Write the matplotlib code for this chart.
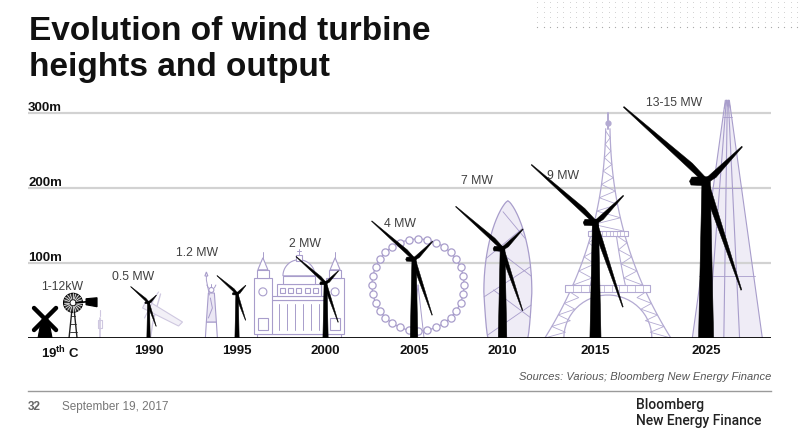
import numpy as np
import matplotlib.pyplot as plt
from matplotlib.patches import Polygon

plt.rcParams['font.family'] = ['Liberation Sans', 'DejaVu Sans']
plt.rcParams['mathtext.fontset'] = 'custom'
plt.rcParams['mathtext.rm'] = 'Liberation Sans'
plt.rcParams['mathtext.bf'] = 'Liberation Sans:bold'

# --- values (heights in metres) ---
eras = [r'$\mathbf{19^{th}}$ C', '1990', '1995', '2000', '2005', '2010', '2015', '2025']
outputs = ['1-12kW', '0.5 MW', '1.2 MW', '2 MW', '4 MW', '7 MW', '9 MW', '13-15 MW']
hub_m = [47, 59, 73, 105, 119, 154, 209]        # 1990 .. 2025
blade_m = [32, 36, 53, 76, 84, 115, 148]        # drawn blade length
windmill_m = 40
windpump_m = 47
landmarks = ['Statue of Liberty', "St Paul's", 'London Eye', 'Gherkin', 'Eiffel Tower', 'The Shard']
landmark_m = [88, 115, 132, 183, 300, 317]
gridlines_m = [100, 200, 300]

# --- layout ---
xpos = [0, 1, 2, 3, 4, 5, 6.05, 7.3]
label_m = [68, 81, 113, 125, 152, 209, 216, 313]
label_dx = [2, -15, -40, -21, -14, -26, -32, -32]     # px from tower
landmark_x = [1.71, 2.70, 4.045, 5.06, 6.19, 7.54]
landmark_hw = [7, 46, 46, 24, 63, 35]                   # px half width

PURPLE = '#a89dcb'
LAV = '#efecf6'

W, H = 800, 436
fig = plt.figure(figsize=(8, 4.36), dpi=100)
ax = fig.add_axes([28 / W, (H - 338) / H, 743 / W, 240 / H])
x0lim = -0.362
x1lim = x0lim + 743 / 88.5
ax.set_xlim(x0lim, x1lim)
ax.set_ylim(0, 320)
ax.patch.set_alpha(0)
SX = 743 / (x1lim - x0lim)   # px per x unit
SY = 240 / 320               # px per metre


def pts(x0, p, k=1.0):
    p = np.asarray(p, float)
    return np.column_stack([x0 + p[:, 0] * k / SX, p[:, 1] * k / SY])


def poly(x0, p, k=1.0, fc='white', ec=PURPLE, lw=0.8, z=3, **kw):
    ax.add_patch(Polygon(pts(x0, p, k), closed=True, fc=fc, ec=ec, lw=lw, zorder=z, **kw))


def line(x0, p, k=1.0, c=PURPLE, lw=0.7, z=3):
    q = pts(x0, p, k)
    ax.plot(q[:, 0], q[:, 1], color=c, lw=lw, zorder=z, solid_capstyle='round')


def rect(x0, a, b, c, d, k=1.0, **kw):
    poly(x0, [(a, b), (c, b), (c, d), (a, d)], k, **kw)


# gridlines and baseline
ax.hlines(gridlines_m, x0lim, x1lim, color='#d2d2d2', lw=1.6, zorder=2.5)
for v in gridlines_m:
    ax.text(x0lim, v + 3, f'{v}m', fontsize=9.5, fontweight='bold', ha='left',
            va='baseline', color='#111111')
ax.axhline(0, color='black', lw=2, zorder=6)
for s in ax.spines.values():
    s.set_visible(False)
ax.set_yticks([])
ax.set_xticks(xpos)
ax.set_xticklabels(eras, fontsize=9.5, fontweight='bold', color='#111111')
ax.tick_params(axis='x', length=0, pad=5)

# ---------- landmarks ----------
# faint sketch next to the 1990 turbine
line(1.0, [(2, 0), (4, 14), (8, 30), (12, 44)], c='#cfc8e0', lw=1.0, z=2)
poly(1.0, [(-6, 30), (30, 12), (34, 16), (-2, 38)], fc='#f2f0f7', ec='#cfc8e0', lw=0.8, z=2)
line(1.0, [(-4, 20), (6, 40), (10, 46)], c='#cfc8e0', lw=0.8, z=2)

# Statue of Liberty
x = landmark_x[0]
k = landmark_m[0] * SY / 66
poly(x, [(-6, 0), (6, 0), (5, 16), (-5, 16)], k)
poly(x, [(-5, 16), (5, 16), (3, 45), (-3, 45)], k, fc='#ebe7f4')
line(x, [(-2, 43), (-5, 58), (-5, 62)], k)
poly(x, [(-6.5, 62), (-3.5, 62), (-5, 66)], k)
th = np.linspace(0, 2 * np.pi, 20)
poly(x, np.column_stack([2.5 * np.cos(th), 48 + 2.5 * np.sin(th)]), k)
line(x, [(-3, 50), (-4.5, 53)], k)
line(x, [(3, 50), (4.5, 53)], k)
line(x, [(0, 51), (0, 54)], k)
line(x, [(-3, 20), (1, 30), (-1, 40)], k)

# St Paul's
x = landmark_x[1]
k = landmark_m[1] * SY / 86
rect(x, -42, 0, 42, 4, k)
rect(x, -28, 4, 28, 38, k)
for c in [-20, -12, -4, 4, 12, 20]:
    line(x, [(c, 8), (c, 34)], k)
rect(x, -30, 38, 30, 42, k)
rect(x, -22, 42, 22, 54, k)
for c in [-16, -8, 0, 8, 16]:
    rect(x, c - 2.5, 45, c + 2.5, 50, k)
rect(x, -16, 54, 16, 62, k)
t = np.linspace(0, np.pi, 30)
poly(x, np.column_stack([16 * np.cos(t), 62 + 16 * np.sin(t)]), k)
rect(x, -3, 77, 3, 83, k)
line(x, [(0, 83), (0, 89)], k)
line(x, [(-2, 87), (2, 87)], k)
for side in [-1, 1]:
    c = 36 * side
    rect(x, c - 9, 4, c + 9, 60, k)
    rect(x, c - 5, 8, c + 5, 20, k)
    poly(x, np.column_stack([c + 4 * np.cos(th), 46 + 4 * np.sin(th)]), k)
    rect(x, c - 6, 60, c + 6, 68, k)
    poly(x, [(c - 5, 68), (c + 5, 68), (c, 80)], k)
    line(x, [(c, 80), (c, 86)], k)

# London Eye
x = landmark_x[2]
r_px = landmark_hw[2]
cy = landmark_m[2] * SY - r_px
line(x, [(-6, 0), (0, cy)], lw=0.7)
line(x, [(6, 0), (0, cy)], lw=0.7)
ang = np.linspace(0, 2 * np.pi, 200)
line(x, np.column_stack([r_px * np.cos(ang), cy + r_px * np.sin(ang)]), lw=0.9)
pa = np.linspace(0, 2 * np.pi, 33)[:-1]
pod = pts(x, np.column_stack([r_px * np.cos(pa), cy + r_px * np.sin(pa)]))
ax.plot(pod[:, 0], pod[:, 1], 'o', ms=5.2, mfc='white', mec=PURPLE, mew=0.9, zorder=3)

# Gherkin
x = landmark_x[3]
hp = landmark_m[3] * SY
hw = landmark_hw[3]


def gw(sv):
    sv = np.asarray(sv, float)
    low = hw * (0.82 + 0.18 * np.clip(sv / 0.33, 0, 1) ** 0.6)
    up = hw * (1 - np.clip((sv - 0.33) / 0.67, 0, 1) ** 2.1) ** 0.75
    return np.where(sv < 0.33, low, up)


yy = np.linspace(0, hp, 90)
ww = gw(yy / hp)
outline = np.vstack([np.column_stack([-ww, yy]), np.column_stack([ww[::-1], yy[::-1]])])
poly(x, outline, fc=LAV, ec='none', lw=0, z=2)
line(x, outline, lw=0.9)
for s1 in [0.02, 0.3, 0.58]:
    line(x, [(-gw(s1), s1 * hp), (gw(s1 + 0.22), (s1 + 0.22) * hp)], lw=0.6)
for s1 in [0.15, 0.45, 0.72]:
    line(x, [(gw(s1), s1 * hp), (-gw(s1 + 0.2) * 0.6, (s1 + 0.2) * hp)], lw=0.6)

# Eiffel Tower
x = landmark_x[4]
hp = landmark_m[4] * SY
hw = landmark_hw[4]


def ew(sv):
    return (hw - 2) * (1 - np.clip(sv, 0, 1)) ** 2.3 + 2


ECOL = '#b3aad2'
sv = np.linspace(0, 0.93, 60)
for side in [-1, 1]:
    line(x, np.column_stack([side * ew(sv), sv * hp]), c=ECOL, lw=0.9)
    s2 = np.linspace(0.235, 0.46, 20)
    line(x, np.column_stack([side * ew(s2) * 0.5, s2 * hp]), c=ECOL, lw=0.8)
    zz = []
    for i, s_ in enumerate(np.linspace(0, 0.205, 9)):
        wo = ew(s_)
        wi = wo - 18 * (1 - s_ * 2)
        zz.append((side * (wo if i % 2 == 0 else wi), s_ * hp))
    line(x, zz, c=ECOL, lw=0.6)
    zz = []
    for i, s_ in enumerate(np.linspace(0.235, 0.455, 8)):
        wo = ew(s_)
        zz.append((side * (wo if i % 2 == 0 else wo * 0.5), s_ * hp))
    line(x, zz, c=ECOL, lw=0.6)
ta = np.linspace(0, np.pi, 30)
line(x, np.column_stack([44 * np.cos(ta), 43 * np.sin(ta)]), c=ECOL, lw=0.9)
zz = []
for i, s_ in enumerate(np.linspace(0.475, 0.92, 16)):
    zz.append(((1 if i % 2 == 0 else -1) * ew(s_), s_ * hp))
line(x, zz, c=ECOL, lw=0.6)
for a, b, f in [(0.205, 0.235, 1.12), (0.455, 0.475, 1.15)]:
    wp = ew(a) * f
    rect(x, -wp, a * hp, wp, b * hp, fc='white', ec=ECOL, lw=0.8, z=3)
    for c in np.linspace(-wp, wp, 12):
        line(x, [(c, a * hp), (c, b * hp)], c=ECOL, lw=0.5)
line(x, [(0, 0.93 * hp), (0, hp)], c=ECOL, lw=1.4)
ax.plot(x, 0.955 * landmark_m[4], 'o', ms=3.5, color=ECOL, zorder=3)

# The Shard
x = landmark_x[5]
hp = landmark_m[5] * SY
hw = landmark_hw[5]
poly(x, [(-hw, 0), (hw, 0), (2, hp), (-2, hp)], fc=LAV, ec='none', lw=0, z=2)
for b0, t0 in [(-hw, -2), (-hw * 0.55, -1), (-hw * 0.1, 0), (hw * 0.35, 1), (hw, 2)]:
    line(x, [(b0, 0), (t0, hp)], lw=0.8)
line(x, [(-3, hp - 8), (-1, hp), (0, hp - 6), (1, hp), (3, hp - 8)], lw=0.8)
for s_ in [0.26, 0.63, 0.93]:
    wl = hw * (1 - s_) + 2
    line(x, [(-wl, s_ * hp), (wl, s_ * hp)], lw=0.6)

# ---------- 19th century windmill and wind pump ----------
x = xpos[0] - 15 / SX
k = windmill_m * SY / 30
poly(x, [(-7, 0), (7, 0), (4, 16), (2, 20), (-2, 20), (-4, 16)], k, fc='black', ec='black', z=4)
line(x, [(-11, 8), (11, 30)], k, c='black', lw=3.2, z=4)
line(x, [(-11, 30), (11, 8)], k, c='black', lw=3.2, z=4)

x = xpos[0] + 13 / SX
hp = windpump_m * SY
line(x, [(-4, 0), (-1, hp - 6)], c='#222222', lw=1.0, z=4)
line(x, [(4, 0), (1, hp - 6)], c='#222222', lw=1.0, z=4)
for hh in [6, 14, 22]:
    line(x, [(-4 + 3 * hh / hp, hh), (4 - 3 * hh / hp, hh)], c='#222222', lw=0.6, z=4)
th = np.linspace(0, 2 * np.pi, 40)
poly(x, np.column_stack([9.5 * np.cos(th), hp + 9.5 * np.sin(th)]), fc='#3a3a3a', ec='black', lw=0.8, z=4)
for a in np.linspace(0, np.pi, 11)[:-1]:
    line(x, [(-9.5 * np.cos(a), hp - 9.5 * np.sin(a)), (9.5 * np.cos(a), hp + 9.5 * np.sin(a))],
         c='white', lw=0.5, z=4)
poly(x, np.column_stack([3 * np.cos(th), hp + 3 * np.sin(th)]), fc='white', ec='black', lw=0.6, z=4)
line(x, [(3, hp), (14, hp + 1)], c='black', lw=1.2, z=4)
poly(x, [(13, hp - 2), (24, hp - 4), (24, hp + 5), (13, hp + 4)], fc='black', ec='black', z=4)

x = xpos[0] + 40 / SX
line(x, [(0, 0), (0, 20)], c='#cfc8e0', lw=1.2, z=2)
line(x, [(-2, 10), (2, 10), (2, 18), (-2, 18), (-2, 10)], c='#cfc8e0', lw=0.8, z=2)
line(x, [(0, 22), (0, 28)], c='#cfc8e0', lw=0.8, z=2)

# ---------- modern turbines ----------
BL = [(0, -0.55), (0.2, -1.0), (1.0, -0.15), (1.0, 0.1), (0.25, 0.45), (0, 0.55)]
blade_dirs = [(138, 1.0), (44, 0.45), (-72, 1.03)]
for i, (h, L) in enumerate(zip(hub_m, blade_m)):
    x = xpos[i + 1]
    hpx = h * SY
    b = 0.036 * h
    tp = 0.55 * b
    poly(x, [(-b, 0), (b, 0), (tp, hpx), (-tp, hpx)], fc='black', ec='black', lw=0.4, z=5)
    poly(x, [(-2.0 * b, hpx - 0.5 * b), (0.3 * b, hpx - 0.6 * b), (0.4 * b, hpx + 0.6 * b),
             (-1.9 * b, hpx + 0.55 * b), (-2.2 * b, hpx)],
         fc='black', ec='black', lw=0.4, z=5)
    wroot = 0.45 * b + 0.8
    for deg, f in blade_dirs:
        a = np.radians(deg)
        u = np.array([np.cos(a), np.sin(a)])
        n = np.array([-np.sin(a), np.cos(a)])
        lp = L * SY * f
        p = [(sa * lp * u[0] + sb * wroot * n[0], hpx + sa * lp * u[1] + sb * wroot * n[1])
             for sa, sb in BL]
        poly(x, p, fc='black', ec='black', lw=0.3, z=5)

# output labels
for i, lab in enumerate(outputs):
    ax.text(xpos[i] + label_dx[i] / SX, label_m[i], lab, ha='center', va='center',
            fontsize=8.8, color='#404040', zorder=7)

# ---------- page furniture ----------
bg = fig.add_axes([0, 0, 1, 1], zorder=-1)
bg.set_xlim(0, W)
bg.set_ylim(H, 0)
bg.axis('off')

dx = np.arange(537, 800, 6.5)
dy = np.arange(2, 30, 5)
gx, gy = np.meshgrid(dx, dy)
bg.scatter(gx.ravel(), gy.ravel(), s=0.5, color='#d2d2d2', linewidths=0)
bg.scatter(dx, np.full_like(dx, dy[-1]), s=0.8, color='#a8a8a8', linewidths=0)

bg.text(29, 40, 'Evolution of wind turbine', fontsize=24, fontweight='bold',
        va='baseline', color='#111111')
bg.text(29, 76, 'heights and output', fontsize=24, fontweight='bold',
        va='baseline', color='#111111')

bg.text(771, 377, 'Sources: Various; Bloomberg New Energy Finance', ha='right',
        va='center', style='italic', fontsize=8, color='#555555')
bg.plot([28, 771], [391, 391], color='#9a9a9a', lw=1)
bg.text(28, 407, '32', va='center', fontsize=8.5, color='#666666', fontweight='bold')
bg.text(62, 407, 'September 19, 2017', va='center', fontsize=8.5, color='#777777')
bg.text(636, 405, 'Bloomberg', va='center', fontsize=10, color='#222222',
        family=['Roboto', 'Liberation Sans'], fontweight='medium')
bg.text(636, 421, 'New Energy Finance', va='center', fontsize=10, color='#222222',
        family=['Roboto', 'Liberation Sans'], fontweight='medium')

fig.savefig('out.png', dpi=100, facecolor='white')
